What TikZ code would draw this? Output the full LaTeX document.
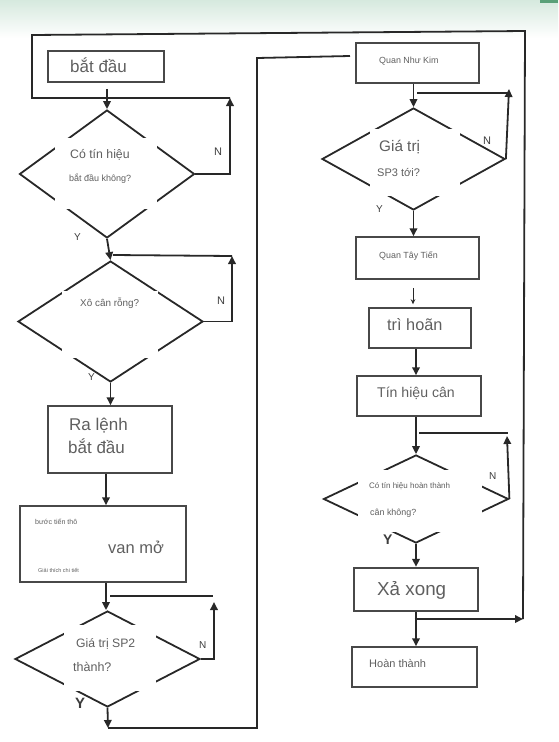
\documentclass[tikz,border=0pt]{standalone}
\usepackage{fontspec}
\setmainfont{Liberation Sans}
\usetikzlibrary{shapes.geometric,arrows.meta}
\definecolor{band}{RGB}{214,233,222}
\definecolor{bandedge}{RGB}{90,160,120}
\definecolor{ink}{RGB}{40,40,40}
\definecolor{txtgray}{RGB}{95,95,95}
\begin{document}
\begin{tikzpicture}[x=1pt,y=-1pt,
  ln/.style={line width=1.8pt, draw=ink},
  arr/.style={ln, -{Triangle[length=8pt,width=7.5pt]}},
  thinarr/.style={line width=0.6pt, draw=ink, -{Stealth[length=5pt,width=4.5pt]}},
  boxn/.style={rectangle, draw=ink!85, line width=1.5pt, inner sep=0pt},
  boxthick/.style={boxn, line width=2.4pt},
  dia/.style={diamond, draw=ink, line width=1.8pt, inner sep=0pt},
  gapbox/.style={rectangle, fill=white, inner sep=0pt},
  txt/.style={text=txtgray, inner sep=0pt, anchor=base west},
  lbl/.style={text=ink!90, inner sep=0pt, anchor=base west, font=\fontsize{11}{11}\selectfont},
  lblb/.style={lbl, font=\fontsize{15}{15}\selectfont\bfseries},
]
\useasboundingbox (0,0) rectangle (558,742);
\shade[top color=band, bottom color=white] (0,0) rectangle (558,38);
\fill[bandedge] (540,0) rectangle (558,2.5);

% ---------- left column ----------
\node[boxn, minimum width=116pt, minimum height=31pt] (b1) at (106,66.5) {};
\node[txt, font=\fontsize{17}{17}\selectfont] (t1) at (70,72.7) {bắt đầu};

\node[dia, minimum width=175pt, minimum height=128pt] (d1) at (107,174) {};
\node[gapbox, minimum width=102pt, minimum height=71pt] (g1) at (106,173.5) {};
\node[txt, font=\fontsize{12.3}{12}\selectfont] (t2) at (70,158) {Có tín hiệu};
\node[txt, font=\fontsize{9}{9}\selectfont] (t3) at (69,181) {bắt đầu không?};

\node[dia, minimum width=185pt, minimum height=121pt] (d2) at (110.5,321.5) {};
\node[gapbox, minimum width=96pt, minimum height=67pt] (g2) at (110,324.5) {};
\node[txt, font=\fontsize{9.9}{10}\selectfont] (t4) at (80,306.7) {Xô cân rỗng?};

\node[boxn, minimum width=124pt, minimum height=67pt] (b2) at (110,439.5) {};
\node[txt, font=\fontsize{17}{17}\selectfont] (t5) at (69,430) {Ra lệnh};
\node[txt, font=\fontsize{17}{17}\selectfont] (t6) at (68,453) {bắt đầu};

\node[boxn, minimum width=166pt, minimum height=76pt] (b3) at (103,544) {};
\node[txt, font=\fontsize{7.1}{7}\selectfont] (t7) at (35,524) {bước tiến thô};
\node[txt, font=\fontsize{16.5}{16}\selectfont] (t8) at (108,553) {van mở};
\node[txt, font=\fontsize{5.5}{5.5}\selectfont] (t9) at (38,572) {Giải thích chi tiết};

\node[dia, minimum width=185pt, minimum height=96pt] (d3) at (107.5,659) {};
\node[gapbox, minimum width=92pt, minimum height=66pt] (g3) at (110,658) {};
\node[txt, font=\fontsize{12.2}{12}\selectfont] (t10) at (76,647) {Giá trị SP2};
\node[txt, font=\fontsize{12.5}{12}\selectfont] (t11) at (73,671) {thành?};

% ---------- right column ----------
\node[boxn, minimum width=123pt, minimum height=40pt] (b4) at (417.5,63) {};
\node[txt, font=\fontsize{8.9}{9}\selectfont] (t12) at (379,63.3) {Quan Như Kim};

\node[dia, minimum width=183pt, minimum height=102pt] (d4) at (413.5,159) {};
\node[gapbox, minimum width=90pt, minimum height=67pt] (g4) at (415,162.5) {};
\node[txt, font=\fontsize{15.3}{15}\selectfont] (t13) at (379,151.7) {Giá trị};
\node[txt, font=\fontsize{11}{11}\selectfont] (t14) at (377,176) {SP3 tới?};

\node[boxn, minimum width=123pt, minimum height=42pt] (b5) at (417.5,258) {};
\node[txt, font=\fontsize{8.9}{9}\selectfont] (t15) at (379,258) {Quan Tây Tiến};

\node[boxn, minimum width=102pt, minimum height=40pt] (b6) at (420,328) {};
\node[txt, font=\fontsize{16.3}{16}\selectfont] (t16) at (387,330) {trì hoãn};

\node[boxn, minimum width=124pt, minimum height=40pt] (b7) at (419,396) {};
\node[txt, font=\fontsize{14.1}{14}\selectfont] (t17) at (377,397.7) {Tín hiệu cân};

\node[dia, minimum width=185pt, minimum height=88pt] (d5) at (416,499) {};
\node[gapbox, minimum width=124pt, minimum height=62pt] (g5) at (420,501) {};
\node[txt, font=\fontsize{8}{8}\selectfont] (t18) at (369,488) {Có tín hiệu hoàn thành};
\node[txt, font=\fontsize{8.9}{9}\selectfont] (t19) at (370,515) {cân không?};

\node[boxthick, minimum width=124pt, minimum height=43pt] (b8) at (416,589.5) {};
\node[txt, font=\fontsize{18.8}{19}\selectfont] (t20) at (377,595) {Xả xong};

\node[boxn, minimum width=125pt, minimum height=40pt] (b9) at (414.5,667) {};
\node[txt, font=\fontsize{11}{11}\selectfont] (t21) at (369,667.7) {Hoàn thành};

% ---------- labels ----------
\node[lbl] (n1l) at (214,155) {N};
\node[lbl, font=\fontsize{10}{10}\selectfont] (y1l) at (74,240) {Y};
\node[lbl] (n2l) at (217,304) {N};
\node[lbl, font=\fontsize{10}{10}\selectfont] (y2l) at (88,380) {Y};
\node[lbl, font=\fontsize{10}{10}\selectfont] (n3l) at (199,648) {N};
\node[lblb] (y3l) at (75,708) {Y};
\node[lbl] (n4l) at (483,144) {N};
\node[lbl, font=\fontsize{10}{10}\selectfont] (y4l) at (376,212) {Y};
\node[lbl, font=\fontsize{10}{10}\selectfont] (n5l) at (489,479) {N};
\node[lblb, font=\fontsize{14}{14}\selectfont\bfseries] (y5l) at (383,544) {Y};

% ---------- coordinates for free ends ----------
\coordinate (oTR) at (525,31);
\coordinate (oTL) at (32,35);
\coordinate (oL) at (32,98);
\coordinate (n1) at (230,98);
\coordinate (xs) at (414.5,619);
\coordinate (oBR) at (523,619);
\coordinate (n2) at (232,256);
\coordinate (j2) at (113,255);
\coordinate (j3) at (110,596);
\coordinate (h3) at (213,596);
\coordinate (n3) at (214,602);
\coordinate (y3) at (108,728);
\coordinate (bL) at (257,728);
\coordinate (tL) at (257,58);
\coordinate (qL) at (350,56);
\coordinate (j4) at (417,93);
\coordinate (h4) at (507,93);
\coordinate (n4) at (509,89);
\coordinate (j5) at (419,433);
\coordinate (h5) at (508,433);
\coordinate (n5) at (507,436);

% ---------- connectors: left ----------
\draw[arr, shorten <=6pt] (b1.south -| d1.north) -- (d1.north);
\draw[arr] (d1.east) -| (n1);
\draw[arr] (xs) -- (oBR);
\draw[ln] (oBR) -- (oTR) -- (oTL) -- (oL) -- (n1);
\draw[arr] (d1.south) -- (d2.north);
\draw[arr] (d2.east) -| (n2);
\draw[ln] (j2) -- (n2);
\draw[arr] (d2.south) -- (d2.south |- b2.north);
\draw[arr] (b2.south -| b1.south) -- (b1.south |- b3.north);
\draw[arr] (b3.south -| b1.south) -- (b1.south |- d3.north);
\draw[ln] (j3) -- (h3);
\draw[arr] (d3.east) -| (n3);
\draw[arr] (d3.south) -- (y3);
\draw[ln] (y3) -- (bL) -- (tL) -- (qL);

% ---------- connectors: right ----------
\draw[arr] (b4.south -| d4.north) -- (d4.north);
\draw[ln] (j4) -- (h4);
\draw[arr] (d4.east) -- (n4);
\draw[arr] (d4.south) -- (d4.south |- b5.north);
\draw[thinarr, shorten <=8pt, shorten >=3pt] ([xshift=-4.5pt]b5.south) -- ([xshift=-4.5pt]b5.south |- b6.north);
\draw[arr] (d5.north |- b6.south) -- (d5.north |- b7.north);
\draw[arr] (b7.south -| d5.north) -- (d5.north);
\draw[ln] (j5) -- (h5);
\draw[arr] (d5.east) -- (n5);
\draw[arr] (d5.south) -- (d5.south |- b8.north);
\draw[arr] (b8.south -| d5.south) -- (d5.south |- b9.north);
\end{tikzpicture}
\end{document}
